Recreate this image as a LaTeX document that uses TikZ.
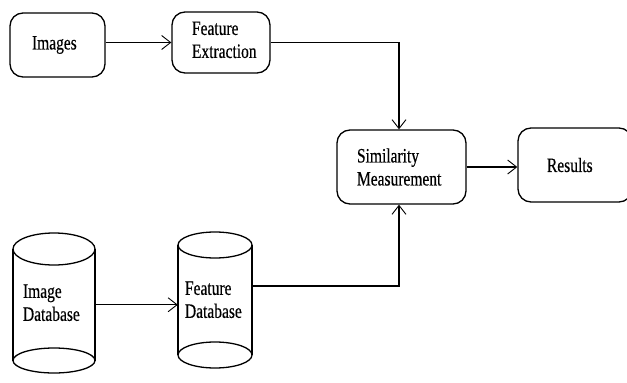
\documentclass[tikz,border=0pt]{standalone}
\usepackage{fontspec}
\setmainfont{Liberation Serif}[FakeStretch=0.76, FakeBold=0.4]
\usetikzlibrary{arrows.meta}
\begin{document}
\begin{tikzpicture}[x=1pt,y=-1pt,
  every node/.style={font=\fontsize{20.4}{23}\selectfont},
  box/.style={draw, line width=1.3pt, rounded corners=13pt, align=left, inner sep=0pt},
  cyltext/.style={draw=none, align=left, inner sep=0pt},
  shapeline/.style={line width=1.3pt},
  conn/.style={line width=1.3pt, -{Straight Barb[length=9pt,width=14pt,line width=0.9pt]}}
]
\useasboundingbox (0,0) rectangle (627,383);
\clip (0,0) rectangle (627,383);

% boxes
\node[box, minimum width=95pt, minimum height=64pt, text width=51pt] (img) at (57.5,45) {Images};
\node[box, minimum width=98pt, minimum height=61pt, text width=58pt] (fe) at (221,42.5) {Feature\\Extraction\rule[-5.5pt]{0pt}{5.5pt}};
\node[box, minimum width=129pt, minimum height=74pt, text width=89pt] (sim) at (401.5,167) {Similarity\\Measurement};
\node[box, minimum width=114pt, minimum height=74pt, text width=56pt] (res) at (575,165) {Results};

% cylinders
\draw[shapeline] (54,249) ellipse [x radius=41, y radius=16];
\draw[shapeline] (54,360.5) ellipse [x radius=41, y radius=12.5];
\draw[shapeline] (13,249) -- (13,360.5) (95,249) -- (95,360.5);
\draw[shapeline] (215,245) ellipse [x radius=37, y radius=13];
\draw[shapeline] (215,355) ellipse [x radius=37, y radius=13];
\draw[shapeline] (178,245) -- (178,355) (252,245) -- (252,355);

\node[cyltext, minimum width=82pt, text width=62pt] (idb) at (54,302.75) {Image\\Database};
\node[cyltext, minimum width=74pt, text width=60pt] (fdb) at (215,299.75) {Feature\\Database};

% connectors
\draw[conn] (img.east |- fe.west) -- (fe.west);
\draw[conn] (fe.east) -| ([xshift=-2.5pt]sim.north);
\draw[conn] (sim.east) -- (sim.east -| res.west);
\draw[conn] ([yshift=-2pt]idb.east) -- ([yshift=-2pt]idb.east -| fdb.west);
\draw[conn] ([yshift=13.75pt]fdb.east) -| ([xshift=-2.5pt]sim.south);
\end{tikzpicture}
\end{document}
